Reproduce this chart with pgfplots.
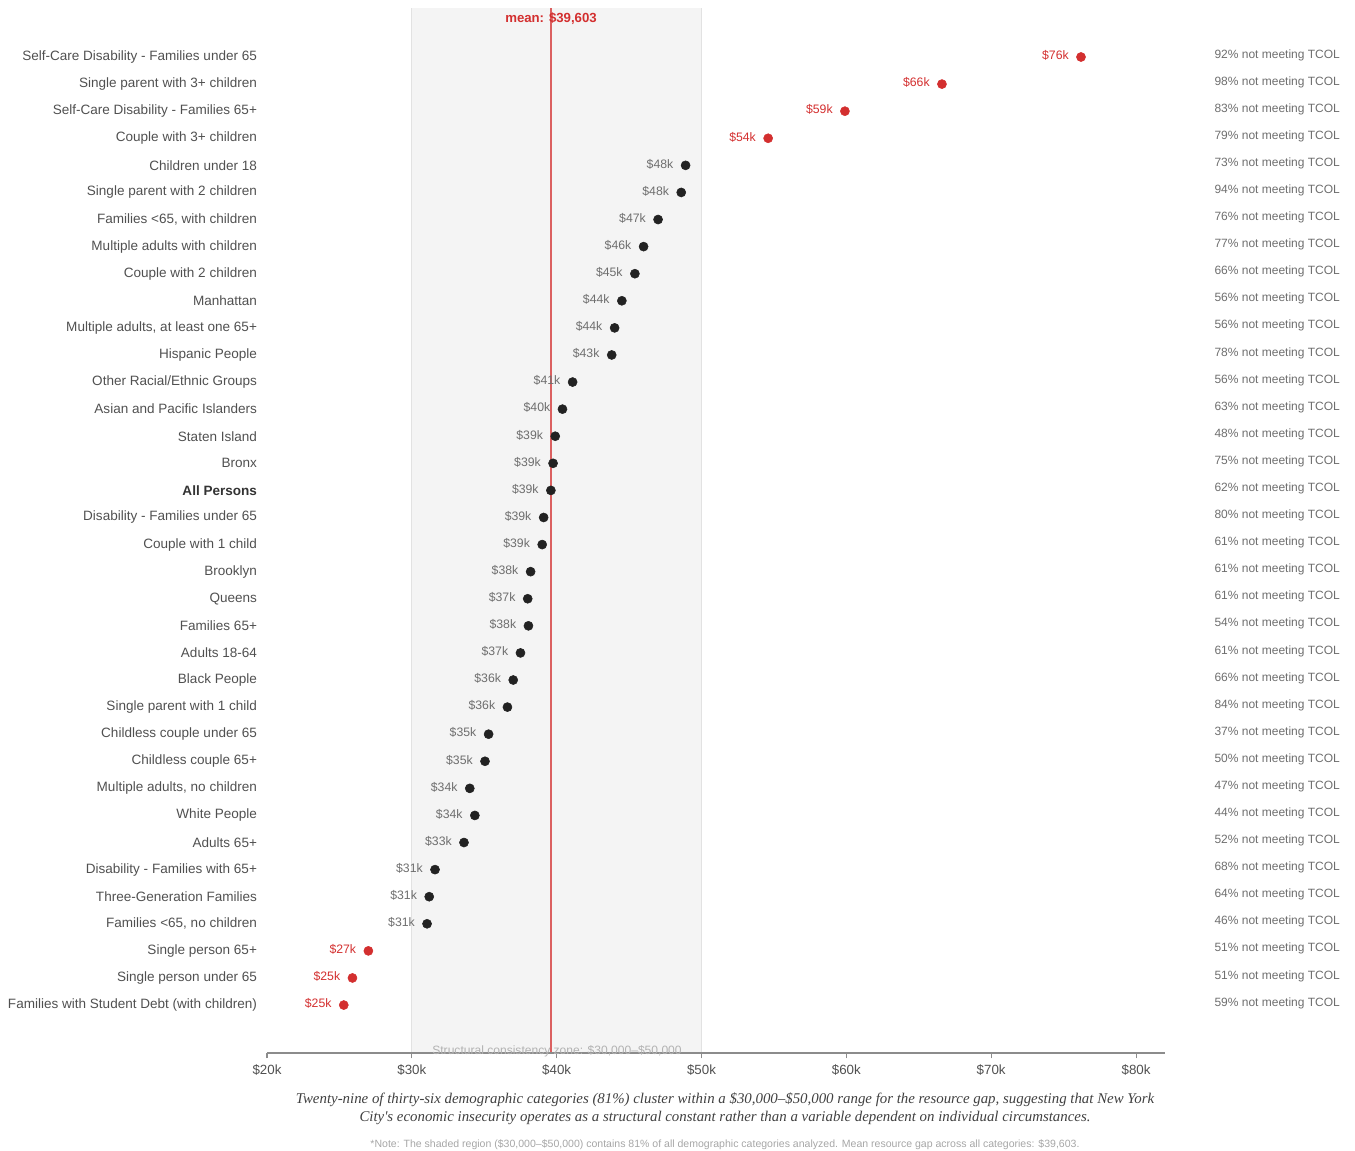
\documentclass[border=0pt]{standalone}
\usepackage{fontspec}
\setmainfont{Liberation Sans}
\newfontfamily\capfont{Liberation Serif}
\usepackage{pgfplots}
\pgfplotsset{compat=1.18}

\definecolor{dotred}{HTML}{D32F2F}
\definecolor{dotblack}{HTML}{222222}
\definecolor{zone}{HTML}{F4F4F4}
\definecolor{zoneedge}{HTML}{E2E2E2}
\definecolor{labgray}{HTML}{505050}
\definecolor{valgray}{HTML}{6E6E6E}
\definecolor{axgray}{HTML}{8C8C8C}

\begin{document}
\begin{tikzpicture}
\path[use as bounding box] (0pt,0pt) rectangle (1016.25pt,863.25pt);
\begin{axis}[
  at={(200.25pt,73.5pt)}, anchor=south west,
  scale only axis, width=673.5pt, height=783.75pt,
  xmin=20, xmax=82, ymin=-0.77, ymax=37.81,
  clip=false, axis on top,
  axis x line*=bottom, axis y line*=left,
  x axis line style={axgray, line width=1.2pt, -},
  y axis line style={draw=none},
  xtick={20,30,...,80},
  xticklabels={\$20k,\$30k,\$40k,\$50k,\$60k,\$70k,\$80k},
  xtick style={axgray, line width=0.8pt},
  ytick style={draw=none},
  tick align=outside, major tick length=4pt,
  xticklabel style={font=\fontsize{10}{12}\selectfont, text=labgray, yshift=-1.5pt},
  ytick={1,...,36},
  yticklabels={
    Families with Student Debt (with children),
    Single person under 65,
    Single person 65+,
    {Families <65, no children},
    Three-Generation Families,
    Disability - Families with 65+,
    Adults 65+,
    White People,
    {Multiple adults, no children},
    Childless couple 65+,
    Childless couple under 65,
    Single parent with 1 child,
    Black People,
    Adults 18-64,
    Families 65+,
    Queens,
    Brooklyn,
    Couple with 1 child,
    Disability - Families under 65,
    {\textcolor{black!80}{\bfseries All Persons}},
    Bronx,
    Staten Island,
    Asian and Pacific Islanders,
    Other Racial/Ethnic Groups,
    Hispanic People,
    {Multiple adults, at least one 65+},
    Manhattan,
    Couple with 2 children,
    Multiple adults with children,
    {Families <65, with children},
    Single parent with 2 children,
    Children under 18,
    Couple with 3+ children,
    Self-Care Disability - Families 65+,
    Single parent with 3+ children,
    Self-Care Disability - Families under 65},
  yticklabel style={font=\fontsize{10.15}{12}\selectfont, text=labgray, anchor=east},
]
% structural consistency zone
\addplot[fill=zone, draw=none] coordinates {(30,-0.77) (30,37.81) (50,37.81) (50,-0.77)} -- cycle;
\addplot[zoneedge, line width=0.8pt] coordinates {(30,-0.77) (30,37.81)};
\addplot[zoneedge, line width=0.8pt] coordinates {(50,-0.77) (50,37.81)};
% mean line
\addplot[dotred, opacity=0.75, line width=1.8pt] coordinates {(39.603,-0.77) (39.603,37.81)};

% categories inside the typical range
\addplot[only marks, mark=*, mark size=3.4pt, dotblack,
  point meta=explicit symbolic, nodes near coords,
  every node near coord/.style={anchor=east, inner sep=0pt, xshift=-9pt, yshift=1pt,
    text=valgray, font=\fontsize{9.2}{11}\selectfont}]
  coordinates {
  (48.9,32) [\$48k]
  (48.6,31) [\$48k]
  (47.0,30) [\$47k]
  (46.0,29) [\$46k]
  (45.4,28) [\$45k]
  (44.5,27) [\$44k]
  (44.0,26) [\$44k]
  (43.8,25) [\$43k]
  (41.1,24) [\$41k]
  (40.4,23) [\$40k]
  (39.9,22) [\$39k]
  (39.75,21) [\$39k]
  (39.6,20) [\$39k]
  (39.1,19) [\$39k]
  (39.0,18) [\$39k]
  (38.2,17) [\$38k]
  (38.0,16) [\$37k]
  (38.05,15) [\$38k]
  (37.5,14) [\$37k]
  (37.0,13) [\$36k]
  (36.6,12) [\$36k]
  (35.3,11) [\$35k]
  (35.05,10) [\$35k]
  (34.0,9) [\$34k]
  (34.35,8) [\$34k]
  (33.6,7) [\$33k]
  (31.6,6) [\$31k]
  (31.2,5) [\$31k]
  (31.05,4) [\$31k]
  };

% outliers
\addplot[only marks, mark=*, mark size=3.4pt, dotred,
  point meta=explicit symbolic, nodes near coords,
  every node near coord/.style={anchor=east, inner sep=0pt, xshift=-9pt, yshift=1pt,
    text=dotred, font=\fontsize{9.2}{11}\selectfont}]
  coordinates {
  (76.2,36) [\$76k]
  (66.6,35) [\$66k]
  (59.9,34) [\$59k]
  (54.6,33) [\$54k]
  (27.0,3) [\$27k]
  (25.9,2) [\$25k]
  (25.3,1) [\$25k]
  };

% share not meeting TCOL
\addplot[draw=none, mark=none,
  point meta=explicit symbolic, nodes near coords,
  every node near coord/.style={anchor=west, inner sep=0pt, yshift=1.5pt,
    text=valgray, font=\fontsize{9}{11}\selectfont}]
  coordinates {
  (85.4,36) [92\% not meeting TCOL]
  (85.4,35) [98\% not meeting TCOL]
  (85.4,34) [83\% not meeting TCOL]
  (85.4,33) [79\% not meeting TCOL]
  (85.4,32) [73\% not meeting TCOL]
  (85.4,31) [94\% not meeting TCOL]
  (85.4,30) [76\% not meeting TCOL]
  (85.4,29) [77\% not meeting TCOL]
  (85.4,28) [66\% not meeting TCOL]
  (85.4,27) [56\% not meeting TCOL]
  (85.4,26) [56\% not meeting TCOL]
  (85.4,25) [78\% not meeting TCOL]
  (85.4,24) [56\% not meeting TCOL]
  (85.4,23) [63\% not meeting TCOL]
  (85.4,22) [48\% not meeting TCOL]
  (85.4,21) [75\% not meeting TCOL]
  (85.4,20) [62\% not meeting TCOL]
  (85.4,19) [80\% not meeting TCOL]
  (85.4,18) [61\% not meeting TCOL]
  (85.4,17) [61\% not meeting TCOL]
  (85.4,16) [61\% not meeting TCOL]
  (85.4,15) [54\% not meeting TCOL]
  (85.4,14) [61\% not meeting TCOL]
  (85.4,13) [66\% not meeting TCOL]
  (85.4,12) [84\% not meeting TCOL]
  (85.4,11) [37\% not meeting TCOL]
  (85.4,10) [50\% not meeting TCOL]
  (85.4,9) [47\% not meeting TCOL]
  (85.4,8) [44\% not meeting TCOL]
  (85.4,7) [52\% not meeting TCOL]
  (85.4,6) [68\% not meeting TCOL]
  (85.4,5) [64\% not meeting TCOL]
  (85.4,4) [46\% not meeting TCOL]
  (85.4,3) [51\% not meeting TCOL]
  (85.4,2) [51\% not meeting TCOL]
  (85.4,1) [59\% not meeting TCOL]
  };
\end{axis}

\node[font=\bfseries\fontsize{9.9}{11}\selectfont, text=dotred] at (413.25pt,849pt) {mean: \$39,603};
\node[font=\fontsize{9.05}{10}\selectfont, text=black!30] at (417.75pt,74.5pt) {Structural consistency zone: \$30,000–\$50,000};
\node[font=\capfont\itshape\fontsize{11.15}{13}\selectfont, text=black!75] at (543.75pt,38.25pt)
  {Twenty-nine of thirty-six demographic categories (81\%) cluster within a \$30,000–\$50,000 range for the resource gap, suggesting that New York};
\node[font=\capfont\itshape\fontsize{11.15}{13}\selectfont, text=black!75] at (543.75pt,24.75pt)
  {City's economic insecurity operates as a structural constant rather than a variable dependent on individual circumstances.};
\node[font=\fontsize{7.9}{9}\selectfont, text=black!35] at (543.75pt,4.6pt)
  {*Note: The shaded region (\$30,000–\$50,000) contains 81\% of all demographic categories analyzed. Mean resource gap across all categories: \$39,603.};
\end{tikzpicture}
\end{document}
